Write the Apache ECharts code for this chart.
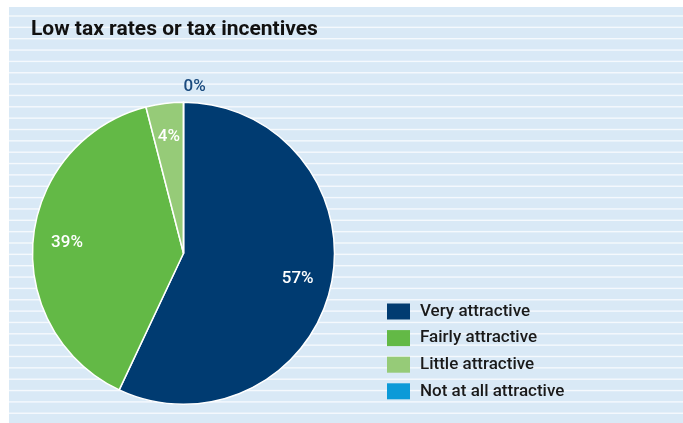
<!DOCTYPE html>
<html>
<head>
<meta charset="utf-8">
<script src="https://cdn.jsdelivr.net/npm/echarts@6/dist/echarts.min.js"></script>
<style>
  html, body { margin: 0; padding: 0; background: #ffffff; }
  #wrap { position: relative; width: 683px; height: 423px; overflow: hidden; }
  #panel { position: absolute; left: 0; top: 0; }
  #chart { position: absolute; left: 0; top: 0; width: 683px; height: 423px; }
</style>
</head>
<body>
<div id="wrap">
  <canvas id="panel" width="683" height="423"></canvas>
  <div id="chart"></div>
</div>
<script>
// Survey answers for "Low tax rates or tax incentives"
const titleText = 'Low tax rates or tax incentives';
const categories = ['Very attractive', 'Fairly attractive', 'Little attractive', 'Not at all attractive'];
const shares = [57, 39, 4, 0];
const sliceColors = ['#003b71', '#63b946', '#96cb78', '#0b9ad8'];

// striped light-blue panel behind the chart
(function drawPanel() {
  const ctx = document.getElementById('panel').getContext('2d');
  ctx.fillStyle = '#d9e9f6';
  ctx.fillRect(9, 7, 674, 416);
  ctx.fillStyle = '#f5f9fd';
  for (let y = 15.3; y < 423; y += 11.35) {
    ctx.fillRect(9, y, 674, 1.4);
  }
})();

const sliceData = categories.map((name, i) => ({ name: name, value: shares[i] }));

// label-only layer: inside labels sit at the middle of the [r0, r] ring
const labelData = categories.map((name, i) => {
  const item = { name: name, value: shares[i] };
  if (shares[i] === 0) {
    item.label = {
      position: 'outside',
      color: '#1a4a7e',
      distanceToLabelLine: 0
    };
    item.labelLine = { show: false, length: 16, length2: 0 };
  }
  return item;
});

const chart = echarts.init(document.getElementById('chart'), null, { renderer: 'canvas' });

const option = {
  animation: false,
  backgroundColor: 'transparent',
  color: sliceColors,
  title: {
    text: titleText,
    left: 31,
    top: 19,
    padding: 0,
    textStyle: {
      fontFamily: 'Roboto, "Liberation Sans", sans-serif',
      fontWeight: 'bold',
      fontSize: 21,
      color: '#111111'
    }
  },
  legend: {
    orient: 'vertical',
    left: 387,
    top: 303,
    padding: 0,
    itemWidth: 23,
    itemHeight: 16,
    itemGap: 9.6,
    icon: 'rect',
    selectedMode: false,
    data: categories,
    itemStyle: { borderWidth: 0 },
    textStyle: {
      fontFamily: 'Roboto, "Liberation Sans", sans-serif',
      fontWeight: 500,
      fontSize: 17,
      color: '#1a1a1a',
      padding: [0, 0, 0, 5]
    }
  },
  series: [
    {
      type: 'pie',
      center: [183.5, 253.3],
      radius: [0, 151],
      startAngle: 90,
      clockwise: true,
      avoidLabelOverlap: false,
      silent: true,
      itemStyle: { borderColor: '#ffffff', borderWidth: 1.5 },
      label: { show: false },
      labelLine: { show: false },
      data: sliceData
    },
    {
      type: 'pie',
      center: [183.5, 253.3],
      radius: [77, 151],
      startAngle: 90,
      clockwise: true,
      avoidLabelOverlap: false,
      silent: true,
      legendHoverLink: false,
      itemStyle: { color: 'rgba(0,0,0,0)', borderWidth: 0 },
      label: {
        show: true,
        position: 'inside',
        formatter: '{c}%',
        fontFamily: 'Roboto, "Liberation Sans", sans-serif',
        fontWeight: 500,
        fontSize: 17,
        color: '#ffffff'
      },
      labelLine: { show: false },
      labelLayout: function (params) {
        return params.dataIndex === 3 ? { align: 'left' } : {};
      },
      data: labelData
    }
  ]
};

chart.setOption(option);
</script>
</body>
</html>
